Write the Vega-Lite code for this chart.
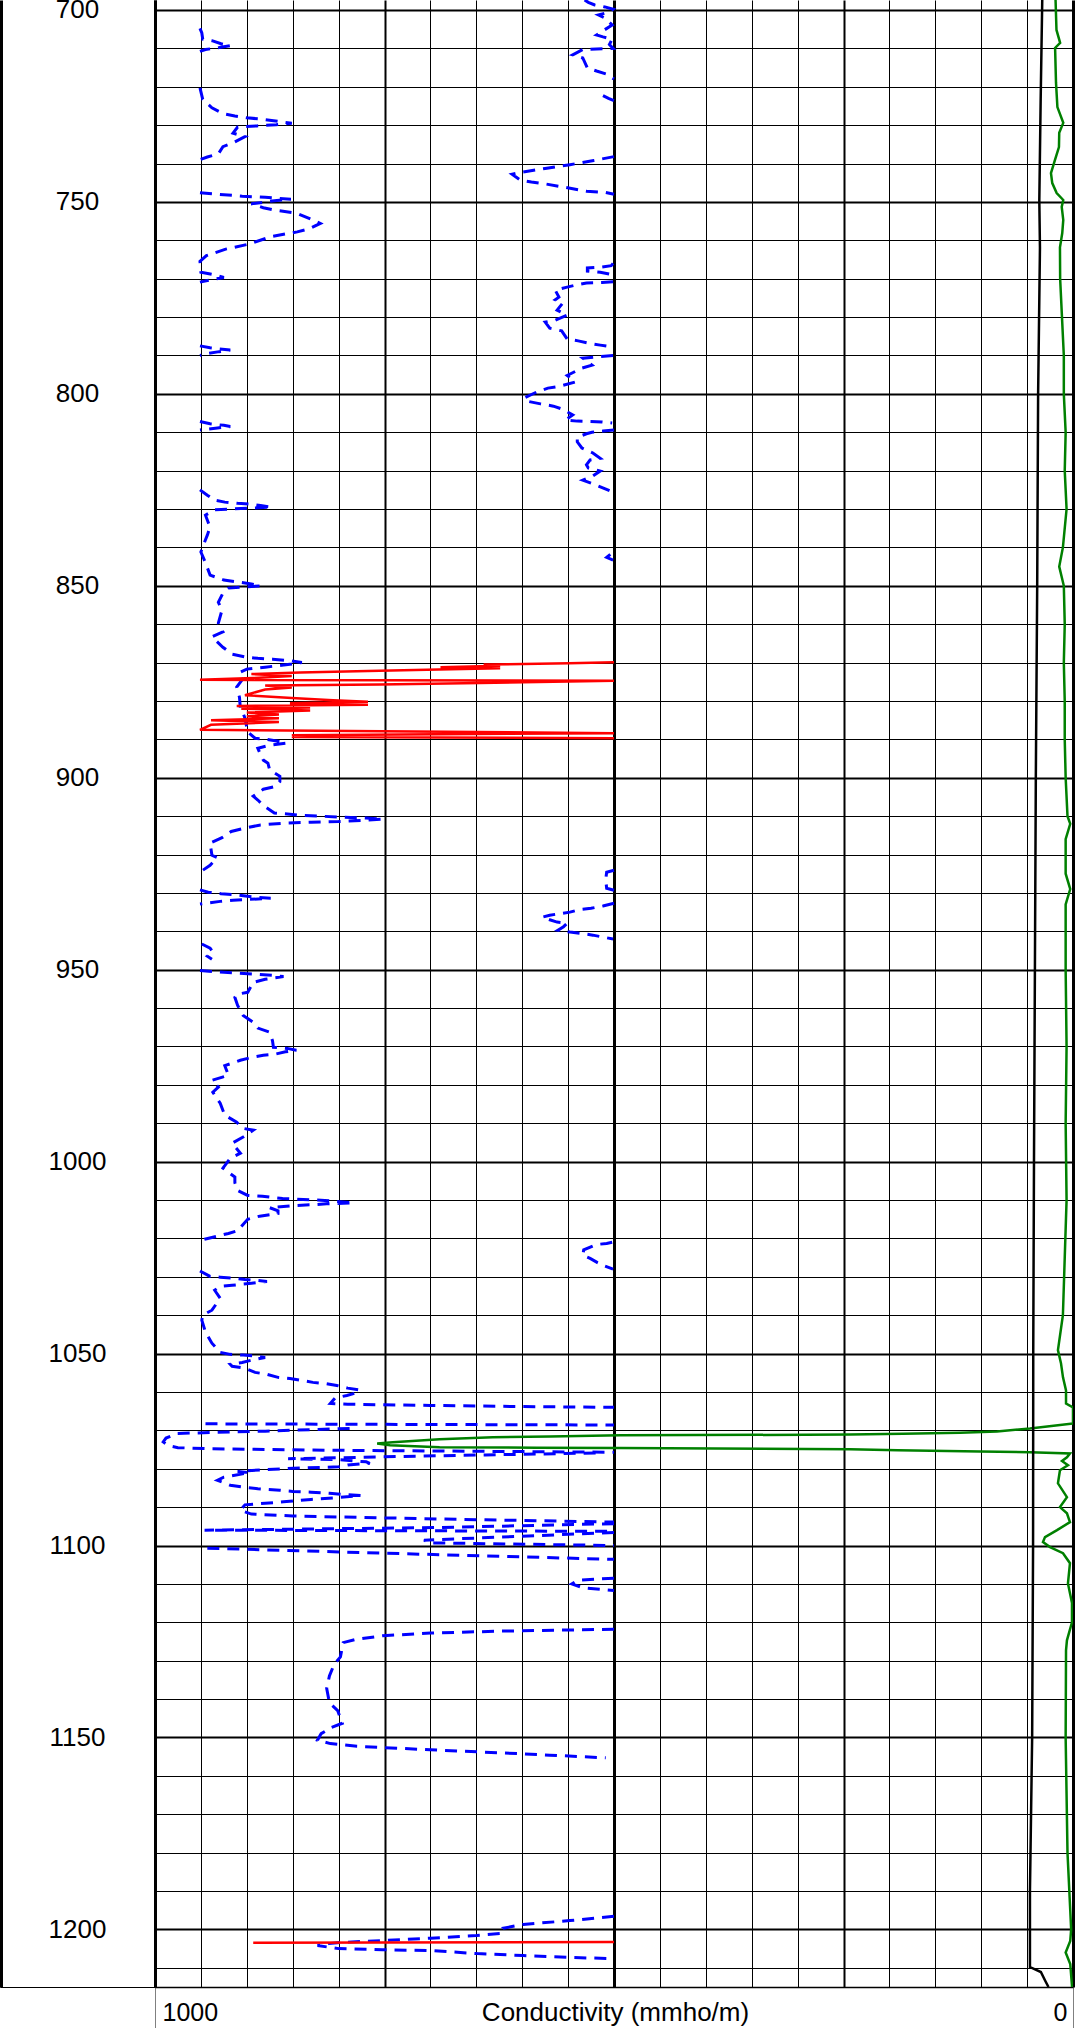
{
"$schema": "https://vega.github.io/schema/vega-lite/v6.json",
"width": 918, "height": 1987,
"autosize": "none",
"padding": {"left": 155, "top": 0, "right": 2, "bottom": 41},
"background": "white",
"config": {"view": {"stroke": null}, "font": "Liberation Sans"},
"datasets": {
"blue": [
{"s":"m1","d":704.8,"c":951},{"s":"m1","d":706,"c":949},{"s":"m1","d":707.6,"c":948},{"s":"m1","d":708.0,"c":938},{"s":"m1","d":708.8,"c":928},{"s":"m1","d":709.3,"c":918},{"s":"m1","d":709.8,"c":930},{"s":"m1","d":710.3,"c":945},{"s":"m1","d":710.8,"c":951},
{"s":"m2","d":720.3,"c":951},{"s":"m2","d":723.3,"c":948},{"s":"m2","d":725.5,"c":938},{"s":"m2","d":727.0,"c":926},{"s":"m2","d":727.6,"c":913},{"s":"m2","d":728.1,"c":900},{"s":"m2","d":728.4,"c":885},{"s":"m2","d":728.8,"c":873},{"s":"m2","d":729.5,"c":851},{"s":"m2","d":729.9,"c":868},{"s":"m2","d":730.2,"c":889},{"s":"m2","d":730.5,"c":910},{"s":"m2","d":732.1,"c":915},{"s":"m2","d":733.0,"c":902},{"s":"m2","d":734.6,"c":915},{"s":"m2","d":735.6,"c":926},{"s":"m2","d":737.5,"c":931},{"s":"m2","d":738.3,"c":943},{"s":"m2","d":739.0,"c":951},
{"s":"m3","d":747.6,"c":951},{"s":"m3","d":748.0,"c":932},{"s":"m3","d":748.5,"c":905},{"s":"m3","d":748.8,"c":880},{"s":"m3","d":749.3,"c":852},{"s":"m3","d":749.7,"c":870},{"s":"m3","d":750.5,"c":895},{"s":"m3","d":751.5,"c":882},{"s":"m3","d":752.1,"c":870},{"s":"m3","d":753.0,"c":845},{"s":"m3","d":754.5,"c":830},{"s":"m3","d":755.6,"c":820},{"s":"m3","d":757.0,"c":832},{"s":"m3","d":757.8,"c":845},{"s":"m3","d":759.0,"c":873},{"s":"m3","d":761.0,"c":898},{"s":"m3","d":762.3,"c":923},{"s":"m3","d":764.0,"c":944},{"s":"m3","d":765.5,"c":951},{"s":"m3","d":768.3,"c":950},{"s":"m3","d":769.0,"c":935},{"s":"m3","d":769.7,"c":925},{"s":"m3","d":770.3,"c":940},{"s":"m3","d":770.9,"c":951},
{"s":"m4","d":787.5,"c":951},{"s":"m4","d":788.0,"c":940},{"s":"m4","d":788.6,"c":918},{"s":"m4","d":789.0,"c":930},{"s":"m4","d":789.6,"c":945},{"s":"m4","d":790.0,"c":951},
{"s":"m5","d":807.2,"c":951},{"s":"m5","d":807.8,"c":940},{"s":"m5","d":808.2,"c":925},{"s":"m5","d":808.5,"c":918},{"s":"m5","d":808.9,"c":932},{"s":"m5","d":809.4,"c":951},
{"s":"m6","d":825.0,"c":951},{"s":"m6","d":826.4,"c":943},{"s":"m6","d":827.7,"c":935},{"s":"m6","d":828.2,"c":924},{"s":"m6","d":828.5,"c":910},{"s":"m6","d":828.7,"c":896},{"s":"m6","d":829.1,"c":885},{"s":"m6","d":829.5,"c":873},{"s":"m6","d":829.8,"c":900},{"s":"m6","d":830.2,"c":935},{"s":"m6","d":831.6,"c":945},{"s":"m6","d":833.5,"c":942},{"s":"m6","d":834.7,"c":940},{"s":"m6","d":836.8,"c":943},{"s":"m6","d":838.0,"c":945},{"s":"m6","d":841.2,"c":950},{"s":"m6","d":844.0,"c":945},{"s":"m6","d":847.2,"c":940},{"s":"m6","d":848.5,"c":925},{"s":"m6","d":849.0,"c":910},{"s":"m6","d":849.5,"c":895},{"s":"m6","d":850.0,"c":885},{"s":"m6","d":850.6,"c":920},{"s":"m6","d":851.9,"c":926},{"s":"m6","d":854.3,"c":931},{"s":"m6","d":856.3,"c":927},{"s":"m6","d":859.7,"c":931},{"s":"m6","d":860.8,"c":929},{"s":"m6","d":862.0,"c":926},{"s":"m6","d":863.3,"c":938},{"s":"m6","d":866.0,"c":926},{"s":"m6","d":867.8,"c":916},{"s":"m6","d":868.6,"c":900},{"s":"m6","d":868.9,"c":888},{"s":"m6","d":869.1,"c":872},{"s":"m6","d":869.6,"c":851},{"s":"m6","d":870.0,"c":840},{"s":"m6","d":870.7,"c":862},{"s":"m6","d":871.2,"c":880},{"s":"m6","d":871.7,"c":900},{"s":"m6","d":872.5,"c":907},{"s":"m6","d":873.8,"c":903},{"s":"m6","d":876.4,"c":911},{"s":"m6","d":879.0,"c":908},{"s":"m6","d":881.9,"c":907},{"s":"m6","d":883.2,"c":904},{"s":"m6","d":884.5,"c":902},{"s":"m6","d":888.1,"c":899},{"s":"m6","d":889.7,"c":891},{"s":"m6","d":890.0,"c":878},{"s":"m6","d":890.5,"c":866},{"s":"m6","d":891.0,"c":857},{"s":"m6","d":891.5,"c":875},{"s":"m6","d":892.3,"c":888},{"s":"m6","d":894.0,"c":885},{"s":"m6","d":895.4,"c":882},{"s":"m6","d":896.2,"c":877},{"s":"m6","d":898.0,"c":875},{"s":"m6","d":899.6,"c":864},{"s":"m6","d":901.0,"c":864},{"s":"m6","d":902.3,"c":869},{"s":"m6","d":903.0,"c":882},{"s":"m6","d":904.8,"c":893},{"s":"m6","d":905.8,"c":888},{"s":"m6","d":907.2,"c":882},{"s":"m6","d":909.2,"c":870},{"s":"m6","d":909.5,"c":853},{"s":"m6","d":909.8,"c":843},{"s":"m6","d":910.0,"c":820},{"s":"m6","d":910.3,"c":795},{"s":"m6","d":910.5,"c":770},{"s":"m6","d":910.8,"c":752},{"s":"m6","d":911.1,"c":775},{"s":"m6","d":911.4,"c":800},{"s":"m6","d":911.6,"c":830},{"s":"m6","d":911.8,"c":858},{"s":"m6","d":912.3,"c":885},{"s":"m6","d":913.1,"c":902},{"s":"m6","d":914.0,"c":917},{"s":"m6","d":915.6,"c":927},{"s":"m6","d":917.0,"c":940},{"s":"m6","d":920.2,"c":938},{"s":"m6","d":920.8,"c":932},{"s":"m6","d":922.8,"c":940},{"s":"m6","d":924.6,"c":951},
{"s":"m7","d":929.2,"c":951},{"s":"m7","d":929.8,"c":942},{"s":"m7","d":930.2,"c":928},{"s":"m7","d":930.6,"c":908},{"s":"m7","d":931.0,"c":895},{"s":"m7","d":931.4,"c":874},{"s":"m7","d":931.9,"c":915},{"s":"m7","d":932.2,"c":929},{"s":"m7","d":932.7,"c":945},{"s":"m7","d":932.9,"c":951},
{"s":"m8","d":943.3,"c":949},{"s":"m8","d":944.4,"c":940},{"s":"m8","d":945.4,"c":937},{"s":"m8","d":946.5,"c":943},{"s":"m8","d":947.3,"c":938},
{"s":"m9","d":950.2,"c":951},{"s":"m9","d":950.5,"c":935},{"s":"m9","d":950.9,"c":912},{"s":"m9","d":951.2,"c":888},{"s":"m9","d":951.5,"c":870},{"s":"m9","d":951.8,"c":860},{"s":"m9","d":952.5,"c":880},{"s":"m9","d":953.3,"c":893},{"s":"m9","d":955.9,"c":899},{"s":"m9","d":956.4,"c":911},{"s":"m9","d":957.2,"c":913},{"s":"m9","d":959.3,"c":910},{"s":"m9","d":961.9,"c":904},{"s":"m9","d":963.7,"c":893},{"s":"m9","d":965.2,"c":888},{"s":"m9","d":966.3,"c":875},{"s":"m9","d":968.5,"c":872},{"s":"m9","d":970.2,"c":871},{"s":"m9","d":970.5,"c":856},{"s":"m9","d":971.0,"c":846},{"s":"m9","d":971.4,"c":858},{"s":"m9","d":972.0,"c":869},{"s":"m9","d":972.3,"c":882},{"s":"m9","d":972.8,"c":894},{"s":"m9","d":973.6,"c":907},{"s":"m9","d":975.0,"c":924},{"s":"m9","d":977.5,"c":920},{"s":"m9","d":978.8,"c":938},{"s":"m9","d":980.6,"c":931},{"s":"m9","d":981.9,"c":937},{"s":"m9","d":984.8,"c":929},{"s":"m9","d":987.9,"c":924},{"s":"m9","d":989.7,"c":911},{"s":"m9","d":991.3,"c":905},{"s":"m9","d":991.8,"c":893},{"s":"m9","d":993.6,"c":904},{"s":"m9","d":995.2,"c":916},{"s":"m9","d":997.8,"c":907},{"s":"m9","d":999.1,"c":918},{"s":"m9","d":1001.7,"c":926},{"s":"m9","d":1004.0,"c":913},{"s":"m9","d":1005.5,"c":913},{"s":"m9","d":1007.5,"c":910},{"s":"m9","d":1008.8,"c":899},{"s":"m9","d":1009.0,"c":883},{"s":"m9","d":1009.3,"c":873},{"s":"m9","d":1009.6,"c":861},{"s":"m9","d":1009.8,"c":845},{"s":"m9","d":1010.1,"c":815},{"s":"m9","d":1010.5,"c":795},{"s":"m9","d":1010.7,"c":784},{"s":"m9","d":1011.0,"c":813},{"s":"m9","d":1011.2,"c":826},{"s":"m9","d":1011.4,"c":845},{"s":"m9","d":1011.7,"c":860},{"s":"m9","d":1012.0,"c":875},{"s":"m9","d":1012.8,"c":866},{"s":"m9","d":1013.5,"c":866},{"s":"m9","d":1014.2,"c":886},{"s":"m9","d":1015.0,"c":899},{"s":"m9","d":1018.0,"c":910},{"s":"m9","d":1018.7,"c":920},{"s":"m9","d":1019.4,"c":932},{"s":"m9","d":1020.2,"c":946},{"s":"m9","d":1020.6,"c":951},
{"s":"m10","d":1028.5,"c":951},{"s":"m10","d":1029.9,"c":940},{"s":"m10","d":1030.1,"c":929},{"s":"m10","d":1030.4,"c":913},{"s":"m10","d":1030.7,"c":902},{"s":"m10","d":1030.9,"c":891},{"s":"m10","d":1031.2,"c":878},{"s":"m10","d":1031.7,"c":895},{"s":"m10","d":1032.2,"c":916},{"s":"m10","d":1032.5,"c":929},{"s":"m10","d":1033.5,"c":935},{"s":"m10","d":1035.6,"c":929},{"s":"m10","d":1038.7,"c":938},{"s":"m10","d":1040.0,"c":948},{"s":"m10","d":1041.3,"c":949},{"s":"m10","d":1044.4,"c":945},{"s":"m10","d":1047.3,"c":938},{"s":"m10","d":1049.7,"c":929},{"s":"m10","d":1050.2,"c":918},{"s":"m10","d":1050.4,"c":904},{"s":"m10","d":1050.6,"c":893},{"s":"m10","d":1051.0,"c":880},{"s":"m10","d":1051.6,"c":893},{"s":"m10","d":1052.3,"c":905},{"s":"m10","d":1052.8,"c":918},{"s":"m10","d":1053.3,"c":916},{"s":"m10","d":1053.8,"c":902},{"s":"m10","d":1054.9,"c":891},{"s":"m10","d":1055.4,"c":878},{"s":"m10","d":1056.2,"c":866},{"s":"m10","d":1056.5,"c":853},{"s":"m10","d":1057.0,"c":840},{"s":"m10","d":1057.5,"c":828},{"s":"m10","d":1057.8,"c":815},{"s":"m10","d":1058.3,"c":802},{"s":"m10","d":1059.0,"c":790},{"s":"m10","d":1059.5,"c":777},{"s":"m10","d":1060.3,"c":782},{"s":"m10","d":1060.9,"c":791},{"s":"m10","d":1061.6,"c":804},{"s":"m10","d":1063.0,"c":809},{"s":"m10","d":1063.2,"c":790},{"s":"m10","d":1063.5,"c":700},{"s":"m10","d":1063.8,"c":600},{"s":"m10","d":1064.0,"c":500},
{"s":"m11","d":1068.3,"c":945},{"s":"m11","d":1068.6,"c":500},
{"s":"m12","d":1069.5,"c":788},{"s":"m12","d":1070.2,"c":880},{"s":"m12","d":1070.8,"c":976},{"s":"m12","d":1072.0,"c":988},{"s":"m12","d":1073.0,"c":991},{"s":"m12","d":1074.0,"c":985},{"s":"m12","d":1074.5,"c":975},{"s":"m12","d":1074.8,"c":940},{"s":"m12","d":1075.2,"c":800},{"s":"m12","d":1075.7,"c":500},
{"s":"m13","d":1075.9,"c":520},{"s":"m13","d":1076.4,"c":640},{"s":"m13","d":1076.9,"c":752},{"s":"m13","d":1077.4,"c":855},{"s":"m13","d":1077.6,"c":802},{"s":"m13","d":1078.2,"c":770},{"s":"m13","d":1078.6,"c":766},{"s":"m13","d":1079.0,"c":790},{"s":"m13","d":1079.5,"c":800},{"s":"m13","d":1079.8,"c":840},{"s":"m13","d":1080.2,"c":880},{"s":"m13","d":1080.7,"c":910},{"s":"m13","d":1081.0,"c":897},{"s":"m13","d":1082.2,"c":925},{"s":"m13","d":1083.0,"c":932},{"s":"m13","d":1084.3,"c":918},{"s":"m13","d":1084.8,"c":904},{"s":"m13","d":1085.2,"c":888},{"s":"m13","d":1085.6,"c":864},{"s":"m13","d":1085.9,"c":850},{"s":"m13","d":1086.1,"c":830},{"s":"m13","d":1086.4,"c":810},{"s":"m13","d":1086.7,"c":795},{"s":"m13","d":1087.0,"c":776},{"s":"m13","d":1087.5,"c":800},{"s":"m13","d":1088.0,"c":830},{"s":"m13","d":1088.6,"c":860},{"s":"m13","d":1089.0,"c":880},{"s":"m13","d":1089.4,"c":902},{"s":"m13","d":1090.8,"c":907},{"s":"m13","d":1091.8,"c":895},{"s":"m13","d":1092.3,"c":850},{"s":"m13","d":1092.8,"c":750},{"s":"m13","d":1093.3,"c":640},{"s":"m13","d":1093.9,"c":500},
{"s":"m14","d":1094.3,"c":500},{"s":"m14","d":1095.3,"c":689},{"s":"m14","d":1096.0,"c":946},{"s":"m14","d":1096.3,"c":500},
{"s":"m15","d":1096.6,"c":500},{"s":"m15","d":1098.6,"c":707},{"s":"m15","d":1099.3,"c":700},{"s":"m15","d":1100.0,"c":500},
{"s":"m16","d":1100.7,"c":943},{"s":"m16","d":1102.0,"c":750},{"s":"m16","d":1103.6,"c":500},
{"s":"m17","d":1108.5,"c":500},{"s":"m17","d":1108.7,"c":517},{"s":"m17","d":1109.1,"c":540},{"s":"m17","d":1110.0,"c":546},{"s":"m17","d":1111.0,"c":534},{"s":"m17","d":1111.7,"c":500},
{"s":"m18","d":1121.8,"c":500},{"s":"m18","d":1122.3,"c":624},{"s":"m18","d":1122.8,"c":700},{"s":"m18","d":1123.5,"c":752},{"s":"m18","d":1124.5,"c":782},{"s":"m18","d":1125.3,"c":795},{"s":"m18","d":1129.0,"c":798},{"s":"m18","d":1131.0,"c":805},{"s":"m18","d":1134.0,"c":810},{"s":"m18","d":1137.2,"c":813},{"s":"m18","d":1141.0,"c":810},{"s":"m18","d":1143.0,"c":801},{"s":"m18","d":1146.3,"c":796},{"s":"m18","d":1147.4,"c":808},{"s":"m18","d":1149.0,"c":819},{"s":"m18","d":1150.7,"c":823},{"s":"m18","d":1151.6,"c":809},{"s":"m18","d":1152.3,"c":780},{"s":"m18","d":1153.2,"c":700},{"s":"m18","d":1154.0,"c":624},{"s":"m18","d":1154.6,"c":570},{"s":"m18","d":1155.3,"c":509},
{"s":"m19","d":1196.6,"c":500},{"s":"m19","d":1197.7,"c":548},{"s":"m19","d":1198.7,"c":599},{"s":"m19","d":1199.7,"c":621},{"s":"m19","d":1201.0,"c":621},{"s":"m19","d":1201.6,"c":650},{"s":"m19","d":1202.3,"c":700},{"s":"m19","d":1202.9,"c":752},{"s":"m19","d":1203.4,"c":798},{"s":"m19","d":1203.7,"c":811},{"s":"m19","d":1204.2,"c":823},{"s":"m19","d":1205.0,"c":800},{"s":"m19","d":1205.3,"c":752},{"s":"m19","d":1205.5,"c":700},{"s":"m19","d":1206.3,"c":649},{"s":"m19","d":1206.8,"c":599},{"s":"m19","d":1207.3,"c":548},{"s":"m19","d":1207.6,"c":501},
{"s":"w1","d":697.4,"c":532},{"s":"w1","d":698.0,"c":528},{"s":"w1","d":698.7,"c":521},{"s":"w1","d":699.2,"c":510},{"s":"w1","d":699.8,"c":501},{"s":"w1","d":700.5,"c":505},{"s":"w1","d":701.3,"c":517},{"s":"w1","d":702.1,"c":510},{"s":"w1","d":703.9,"c":502},{"s":"w1","d":706.5,"c":519},{"s":"w1","d":707.0,"c":512},{"s":"w1","d":707.6,"c":502},{"s":"w1","d":709.0,"c":505},{"s":"w1","d":710.0,"c":501},{"s":"w1","d":710.3,"c":534},{"s":"w1","d":711.7,"c":545},{"s":"w1","d":712.5,"c":534},{"s":"w1","d":715.1,"c":529},{"s":"w1","d":715.9,"c":519},{"s":"w1","d":716.7,"c":508},{"s":"w1","d":717.7,"c":502},{"s":"w1","d":718.0,"c":500},
{"s":"w2","d":722.3,"c":512},{"s":"w2","d":723.0,"c":506},{"s":"w2","d":723.6,"c":500},
{"s":"w3","d":738.2,"c":500},{"s":"w3","d":739.2,"c":522},{"s":"w3","d":740.3,"c":548},{"s":"w3","d":741.3,"c":575},{"s":"w3","d":742.3,"c":602},{"s":"w3","d":742.8,"c":611},{"s":"w3","d":744.3,"c":602},{"s":"w3","d":744.8,"c":590},{"s":"w3","d":745.3,"c":575},{"s":"w3","d":746.0,"c":558},{"s":"w3","d":747.2,"c":530},{"s":"w3","d":747.5,"c":510},{"s":"w3","d":748.0,"c":500},
{"s":"w4","d":766.0,"c":501},{"s":"w4","d":766.6,"c":503},{"s":"w4","d":767.0,"c":515},{"s":"w4","d":767.2,"c":529},{"s":"w4","d":768.0,"c":529},{"s":"w4","d":768.3,"c":515},{"s":"w4","d":768.9,"c":503},{"s":"w4","d":769.2,"c":500},
{"s":"w4b","d":770.8,"c":501},{"s":"w4b","d":771.0,"c":513},{"s":"w4b","d":771.1,"c":530},{"s":"w4b","d":771.5,"c":539},{"s":"w4b","d":772.2,"c":551},{"s":"w4b","d":773.0,"c":564},{"s":"w4b","d":774.8,"c":560},{"s":"w4b","d":775.5,"c":564},{"s":"w4b","d":776.4,"c":556},{"s":"w4b","d":778.2,"c":562},{"s":"w4b","d":779.5,"c":551},{"s":"w4b","d":780.8,"c":564},{"s":"w4b","d":781.3,"c":575},{"s":"w4b","d":782.9,"c":570},{"s":"w4b","d":783.6,"c":557},{"s":"w4b","d":785.7,"c":551},{"s":"w4b","d":786.2,"c":539},{"s":"w4b","d":786.8,"c":528},{"s":"w4b","d":787.3,"c":515},{"s":"w4b","d":787.8,"c":501},
{"s":"w5","d":790.0,"c":501},{"s":"w5","d":790.4,"c":521},{"s":"w5","d":790.7,"c":534},{"s":"w5","d":792.5,"c":524},{"s":"w5","d":793.3,"c":535},{"s":"w5","d":795.2,"c":551},{"s":"w5","d":796.9,"c":542},{"s":"w5","d":798.0,"c":559},{"s":"w5","d":798.5,"c":572},{"s":"w5","d":799.5,"c":584},{"s":"w5","d":801.0,"c":597},{"s":"w5","d":801.8,"c":597},{"s":"w5","d":802.6,"c":580},{"s":"w5","d":803.2,"c":566},{"s":"w5","d":804.0,"c":556},{"s":"w5","d":805.5,"c":545},{"s":"w5","d":806.8,"c":553},{"s":"w5","d":807.1,"c":540},{"s":"w5","d":807.2,"c":528},{"s":"w5","d":807.3,"c":513},{"s":"w5","d":807.6,"c":502},
{"s":"w6","d":809.4,"c":500},{"s":"w6","d":809.7,"c":512},{"s":"w6","d":810.0,"c":524},{"s":"w6","d":810.4,"c":530},{"s":"w6","d":811.3,"c":540},{"s":"w6","d":812.5,"c":540},{"s":"w6","d":814.1,"c":535},{"s":"w6","d":815.4,"c":523},{"s":"w6","d":816.8,"c":515},{"s":"w6","d":817.2,"c":526},{"s":"w6","d":818.5,"c":530},{"s":"w6","d":819.3,"c":528},{"s":"w6","d":820.1,"c":515},{"s":"w6","d":821.4,"c":523},{"s":"w6","d":822.5,"c":534},{"s":"w6","d":823.8,"c":519},{"s":"w6","d":825.6,"c":501},
{"s":"w7","d":841.8,"c":504},{"s":"w7","d":842.6,"c":508},{"s":"w7","d":843.3,"c":501},
{"s":"w8","d":924.1,"c":500},{"s":"w8","d":924.6,"c":508},{"s":"w8","d":926.5,"c":509},{"s":"w8","d":928.8,"c":508},{"s":"w8","d":929.3,"c":500},
{"s":"w9","d":932.7,"c":500},{"s":"w9","d":933.4,"c":512},{"s":"w9","d":934.0,"c":525},{"s":"w9","d":934.3,"c":537},{"s":"w9","d":935.0,"c":548},{"s":"w9","d":935.8,"c":570},{"s":"w9","d":936.3,"c":578},{"s":"w9","d":937.0,"c":570},{"s":"w9","d":937.6,"c":562},{"s":"w9","d":937.9,"c":551},{"s":"w9","d":938.8,"c":555},{"s":"w9","d":939.7,"c":561},{"s":"w9","d":940.2,"c":548},{"s":"w9","d":940.5,"c":537},{"s":"w9","d":941.0,"c":523},{"s":"w9","d":941.5,"c":512},{"s":"w9","d":942.0,"c":501},
{"s":"w10","d":1021.0,"c":502},{"s":"w10","d":1021.3,"c":508},{"s":"w10","d":1021.6,"c":519},{"s":"w10","d":1023.0,"c":533},{"s":"w10","d":1024.4,"c":534},{"s":"w10","d":1025.2,"c":526},{"s":"w10","d":1026.3,"c":518},{"s":"w10","d":1027.0,"c":512},{"s":"w10","d":1028.0,"c":501}
],
"red": [
{"s":"r1","d":869.9,"c":500},{"s":"r1","d":870.2,"c":549},{"s":"r1","d":870.5,"c":642},{"s":"r1","d":870.8,"c":624},{"s":"r1","d":871.2,"c":689},{"s":"r1","d":871.5,"c":624},{"s":"r1","d":871.8,"c":691},{"s":"r1","d":872.2,"c":768},{"s":"r1","d":872.6,"c":842},{"s":"r1","d":873.0,"c":895},{"s":"r1","d":873.5,"c":851},{"s":"r1","d":874.0,"c":893},{"s":"r1","d":874.5,"c":951},{"s":"r1","d":874.7,"c":500},{"s":"r1","d":875.3,"c":646},{"s":"r1","d":875.7,"c":755},{"s":"r1","d":876.0,"c":880},{"s":"r1","d":876.5,"c":851},{"s":"r1","d":877.0,"c":880},{"s":"r1","d":878.5,"c":902},{"s":"r1","d":879.2,"c":851},{"s":"r1","d":879.8,"c":806},{"s":"r1","d":880.2,"c":768},{"s":"r1","d":880.6,"c":853},{"s":"r1","d":881.0,"c":768},{"s":"r1","d":881.3,"c":911},{"s":"r1","d":881.7,"c":831},{"s":"r1","d":882.0,"c":906},{"s":"r1","d":882.5,"c":831},{"s":"r1","d":883.0,"c":900},{"s":"r1","d":883.5,"c":865},{"s":"r1","d":884.0,"c":900},{"s":"r1","d":884.5,"c":865},{"s":"r1","d":885.0,"c":939},{"s":"r1","d":885.5,"c":865},{"s":"r1","d":886.2,"c":939},{"s":"r1","d":887.5,"c":951},{"s":"r1","d":888.4,"c":500},{"s":"r1","d":888.9,"c":851},{"s":"r1","d":889.2,"c":780},{"s":"r1","d":889.4,"c":851},{"s":"r1","d":889.7,"c":500},
{"s":"r2","d":1203.3,"c":500},{"s":"r2","d":1203.45,"c":893}
],
"green": [
{"d":697.4,"c":19},{"d":705.2,"c":18},{"d":708.6,"c":14},{"d":709.9,"c":19.5},{"d":719,"c":18.5},{"d":725.3,"c":17},{"d":729.4,"c":10.6},{"d":732,"c":15},{"d":735.7,"c":15.3},{"d":739.9,"c":20.7},{"d":742.5,"c":24},{"d":745.1,"c":22.6},{"d":747.7,"c":17.8},{"d":749.5,"c":10.6},{"d":751.3,"c":12.3},{"d":754.7,"c":10.6},{"d":758.1,"c":11.7},{"d":761.8,"c":14.2},{"d":770,"c":14},{"d":780,"c":12},{"d":790,"c":10},{"d":800,"c":10},{"d":810,"c":8},{"d":820,"c":9},{"d":830,"c":7},{"d":840,"c":11},{"d":845,"c":15},{"d":850,"c":10},{"d":860,"c":9},{"d":870,"c":10},{"d":880,"c":9},{"d":890,"c":9},{"d":900,"c":8},{"d":910,"c":6},{"d":912,"c":3},{"d":916,"c":8},{"d":925,"c":8},{"d":929,"c":3},{"d":933,"c":8},{"d":950,"c":8},{"d":970,"c":7},{"d":990,"c":8},{"d":1010,"c":7},{"d":1025,"c":9},{"d":1040,"c":11},{"d":1049.1,"c":16.4},{"d":1052.5,"c":13.1},{"d":1056.2,"c":10.9},{"d":1059.6,"c":7.6},{"d":1063,"c":7.6},{"d":1064,"c":0},{"d":1068.2,"c":0},{"d":1069.5,"c":46.9},{"d":1070.3,"c":82.8},{"d":1070.6,"c":123},{"d":1070.9,"c":185},{"d":1071.1,"c":243},{"d":1071.3,"c":493},{"d":1071.6,"c":570},{"d":1071.8,"c":632},{"d":1072.3,"c":690},{"d":1073.1,"c":741},{"d":1073.4,"c":758},{"d":1073.9,"c":744},{"d":1074.4,"c":690},{"d":1074.5,"c":584},{"d":1074.6,"c":494},{"d":1074.9,"c":243},{"d":1075.2,"c":191},{"d":1075.5,"c":101},{"d":1075.7,"c":47},{"d":1076.0,"c":3.3},{"d":1077.0,"c":6.6},{"d":1078.0,"c":12},{"d":1079.1,"c":5.5},{"d":1080.4,"c":14.2},{"d":1083.8,"c":16.4},{"d":1087.4,"c":6.6},{"d":1090.0,"c":14.2},{"d":1091.6,"c":6.6},{"d":1093.9,"c":3.3},{"d":1096.0,"c":17.4},{"d":1097.8,"c":30.5},{"d":1099.1,"c":32.7},{"d":1100.4,"c":25},{"d":1102.0,"c":10.9},{"d":1104.6,"c":3.3},{"d":1109.9,"c":5.5},{"d":1115.0,"c":1.1},{"d":1120.0,"c":1.1},{"d":1124.7,"c":6.6},{"d":1127.3,"c":7.6},{"d":1150,"c":8},{"d":1180,"c":6},{"d":1195,"c":3},{"d":1200,"c":2},{"d":1203,"c":3},{"d":1206,"c":8},{"d":1209,"c":3},{"d":1215,"c":1}
],
"black": [
{"d":697.4,"c":33.5},{"d":723,"c":35.2},{"d":749.5,"c":36.7},{"d":762,"c":36},{"d":800,"c":38},{"d":850,"c":39},{"d":900,"c":40.5},{"d":950,"c":41.5},{"d":1000,"c":42.5},{"d":1049,"c":43.3},{"d":1100,"c":43.5},{"d":1150,"c":44.5},{"d":1190,"c":46.9},{"d":1209.8,"c":46.9},{"d":1211.1,"c":35},{"d":1213.5,"c":30},{"d":1215,"c":26.7}
]
},
"resolve": {"axis": {"y": "independent"}},
"layer": [
{
"data": {"name": "blue"},
"mark": {"type": "line", "color": "#0000ff", "strokeWidth": 3, "strokeDash": [12, 8], "clip": true},
"encoding": {
"x": {"field": "c", "type": "quantitative", "scale": {"domain": [0, 1000], "reverse": true, "nice": false, "zero": false},
"axis": {"orient": "bottom", "values": [0,50,100,150,200,250,300,350,400,450,500,550,600,650,700,750,800,850,900,950,1000],
"grid": true, "gridColor": "#000000", "gridOpacity": 1,
"gridWidth": {"condition": [{"test": "datum.value % 500 === 0", "value": 3}, {"test": "datum.value % 250 === 0", "value": 2}], "value": 1},
"domain": true, "domainColor": "#000000", "domainWidth": 1.5,
"ticks": true, "tickSize": 41, "tickColor": "#808080", "tickWidth": 1,
"tickOpacity": {"condition": {"test": "datum.value === 0 || datum.value === 1000", "value": 1}, "value": 0},
"labelExpr": "datum.value === 1000 ? '1000' : (datum.value === 0 ? '0' : '')",
"labelFont": "Liberation Sans", "labelFontSize": 25, "labelColor": "#000000",
"labelBaseline": "alphabetic", "labelPadding": -8,
"labelAlign": {"condition": {"test": "datum.value === 1000", "value": "left"}, "value": "right"},
"labelOffset": {"condition": {"test": "datum.value === 1000", "value": 7}, "value": -6},
"labelOverlap": false, "labelFlush": false, "labelBound": false,
"title": "Conductivity (mmho/m)", "titleFont": "Liberation Sans", "titleFontSize": 26, "titleFontWeight": "normal", "titleColor": "#000000",
"titleBaseline": "alphabetic", "titleAlign": "center", "titleX": 460, "titleY": 33, "zindex": 0}},
"y": {"field": "d", "type": "quantitative", "scale": {"domain": [697.4, 1215], "reverse": true, "nice": false, "zero": false},
"axis": {"orient": "left", "values": [700,710,720,730,740,750,760,770,780,790,800,810,820,830,840,850,860,870,880,890,900,910,920,930,940,950,960,970,980,990,1000,1010,1020,1030,1040,1050,1060,1070,1080,1090,1100,1110,1120,1130,1140,1150,1160,1170,1180,1190,1200,1210,1215],
"format": "d",
"grid": true, "gridColor": "#000000", "gridOpacity": 1,
"gridWidth": {"condition": {"test": "datum.value % 50 === 0", "value": 2}, "value": 1},
"domain": true, "domainColor": "#000000", "domainWidth": 3,
"ticks": true, "tickSize": 155, "tickColor": "#000000", "tickWidth": 1,
"tickOpacity": {"condition": {"test": "datum.value === 1215", "value": 1}, "value": 0},
"labelExpr": "datum.value % 50 === 0 ? datum.label : ''",
"labelFont": "Liberation Sans", "labelFontSize": 26, "labelColor": "#000000",
"labelAlign": "center", "labelBaseline": "middle", "labelPadding": -77,
"labelOverlap": false, "labelBound": false, "labelFlush": false,
"title": null, "zindex": 0}},
"detail": {"field": "s"},
"order": {"value": null}
}
},
{
"data": {"name": "red"},
"mark": {"type": "line", "color": "#ff0000", "strokeWidth": 2.5, "clip": true},
"encoding": {
"x": {"field": "c", "type": "quantitative"},
"y": {"field": "d", "type": "quantitative", "axis": null},
"detail": {"field": "s"},
"order": {"value": null}
}
},
{
"data": {"name": "green"},
"mark": {"type": "line", "color": "#008000", "strokeWidth": 2.5, "clip": true},
"encoding": {
"x": {"field": "c", "type": "quantitative"},
"y": {"field": "d", "type": "quantitative",
"axis": {"orient": "left", "offset": 154, "domain": true, "domainColor": "#000000", "domainWidth": 3, "ticks": false, "labels": false, "grid": false, "title": null}},
"order": {"value": null}
}
},
{
"data": {"name": "black"},
"mark": {"type": "line", "color": "#000000", "strokeWidth": 2.5, "clip": true},
"encoding": {
"x": {"field": "c", "type": "quantitative"},
"y": {"field": "d", "type": "quantitative", "axis": null},
"order": {"value": null}
}
}
]
}
